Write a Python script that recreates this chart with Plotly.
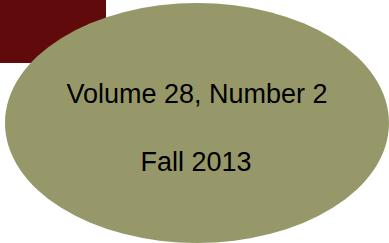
import plotly.graph_objects as go

labels = ["Volume 28, Number 2", "Fall 2013"]
label_x = [197, 196]
label_y = [96, 164]

W, H = 389, 243
fig = go.Figure()
fig.add_shape(type="rect", x0=0, x1=106, y0=0, y1=63, fillcolor="#600a0b", line=dict(width=0), layer="below")
fig.add_shape(type="circle", x0=5, x1=389, y0=3, y1=243, fillcolor="#979869", line=dict(width=0), layer="below")
fig.add_trace(go.Scatter(x=label_x, y=label_y, mode="text", text=labels,
                         textfont=dict(family="Liberation Sans, Arial", size=27, color="#000000"),
                         hoverinfo="skip", showlegend=False))
fig.update_xaxes(range=[0, W], visible=False, fixedrange=True)
fig.update_yaxes(range=[H, 0], visible=False, fixedrange=True)
fig.update_layout(width=W, height=H, margin=dict(l=0, r=0, t=0, b=0),
                  paper_bgcolor="white", plot_bgcolor="white")
fig.write_html("out.html", config={"displayModeBar": False},
               post_script="document.body.style.margin='0';document.body.style.overflow='hidden';")
